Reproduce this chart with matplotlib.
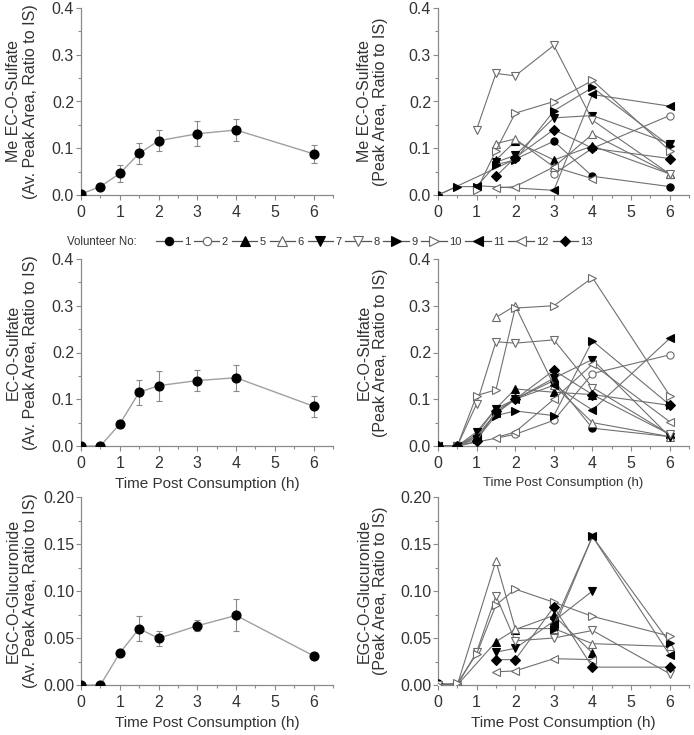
import numpy as np
import matplotlib

matplotlib.use("Agg")
import matplotlib.pyplot as plt
from matplotlib.lines import Line2D
from matplotlib.ticker import FormatStrFormatter, MultipleLocator

nan = np.nan

# sampling times (h) and volunteer ids
times = [0, 0.5, 1, 1.5, 2, 3, 4, 6]
volunteers = ["1", "2", "5", "6", "7", "8", "9", "10", "11", "12", "13"]

# averages +/- error (left column)
me_sulf_mean = [0.002, 0.018, 0.046, 0.089, 0.116, 0.131, 0.139, 0.088]
me_sulf_err = [0.0, 0.003, 0.019, 0.023, 0.022, 0.027, 0.023, 0.019]
ec_sulf_mean = [0.0, 0.0, 0.047, 0.115, 0.129, 0.140, 0.146, 0.085]
ec_sulf_err = [0.0, 0.0, 0.009, 0.027, 0.032, 0.023, 0.028, 0.022]
egc_gluc_mean = [0.0, 0.0, 0.034, 0.060, 0.0496, 0.063, 0.074, 0.031]
egc_gluc_err = [0.0, 0.0, 0.002, 0.013, 0.008, 0.006, 0.017, 0.003]

# individual volunteers (right column), one row per volunteer, nan = not detected
me_sulf_vol = [
    [0.0, nan, nan, nan, nan, 0.115, 0.040, 0.018],      # 1
    [nan, nan, nan, nan, nan, 0.045, 0.100, 0.170],      # 2
    [nan, nan, nan, 0.075, 0.115, 0.075, 0.105, 0.045],  # 5
    [nan, nan, nan, 0.110, 0.120, 0.060, 0.130, 0.045],  # 6
    [nan, nan, nan, 0.070, 0.085, 0.165, 0.170, 0.110],  # 7
    [nan, nan, 0.140, 0.260, 0.255, 0.320, 0.160, 0.045],  # 8
    [0.0, 0.018, 0.018, 0.065, 0.075, 0.180, 0.230, 0.105],  # 9
    [nan, nan, 0.010, 0.095, 0.175, 0.200, 0.245, 0.095],  # 10
    [nan, nan, 0.020, nan, nan, 0.010, 0.215, 0.190],    # 11
    [nan, nan, nan, 0.015, 0.018, 0.060, 0.035, nan],    # 12
    [nan, nan, nan, 0.040, 0.080, 0.140, 0.100, 0.078],  # 13
]
ec_sulf_vol = [
    [0.0, 0.0, 0.020, 0.070, 0.100, 0.140, 0.038, 0.020],  # 1
    [0.0, 0.0, nan, nan, 0.025, 0.055, 0.155, 0.195],      # 2
    [0.0, 0.0, 0.025, 0.080, 0.122, 0.115, 0.110, 0.025],  # 5
    [nan, nan, nan, 0.275, 0.300, 0.130, 0.050, 0.020],    # 6
    [0.0, 0.0, 0.030, 0.080, 0.100, 0.145, 0.185, 0.020],  # 7
    [0.0, 0.0, 0.090, 0.223, 0.220, 0.227, 0.125, 0.025],  # 8
    [0.0, 0.0, 0.015, 0.065, 0.075, 0.065, 0.225, 0.088],  # 9
    [0.0, 0.0, 0.108, 0.120, 0.295, 0.300, 0.360, 0.108],  # 10
    [0.0, 0.0, 0.020, 0.070, 0.100, 0.130, 0.077, 0.230],  # 11
    [nan, nan, nan, 0.018, 0.030, 0.100, 0.175, 0.052],    # 12
    [0.0, 0.0, 0.010, 0.075, 0.100, 0.162, 0.110, 0.087],  # 13
]
egc_gluc_vol = [
    [0.002, 0.0, nan, nan, nan, nan, nan, nan],            # 1
    [0.0, 0.0, nan, nan, nan, nan, nan, nan],              # 2
    [0.0, 0.0, nan, 0.046, 0.059, 0.074, 0.034, nan],      # 5
    [0.0, 0.0, nan, 0.132, 0.060, 0.060, 0.044, 0.041],    # 6
    [nan, nan, nan, 0.035, 0.039, 0.068, 0.100, nan],      # 7
    [0.0, 0.0, 0.035, 0.095, 0.047, 0.050, 0.058, 0.012],  # 8
    [nan, nan, nan, nan, nan, 0.060, 0.158, 0.045],        # 9
    [0.0, 0.002, 0.033, 0.085, 0.102, 0.088, 0.073, 0.052],  # 10
    [nan, nan, nan, nan, nan, 0.065, 0.158, 0.032],        # 11
    [nan, nan, nan, 0.014, 0.015, 0.028, 0.027, nan],      # 12
    [nan, nan, nan, 0.027, 0.027, 0.083, 0.019, 0.019],    # 13
]

# marker shape / filled / size per volunteer
STYLES = [("o", True, 5.2), ("o", False, 5.2), ("^", True, 6.0), ("^", False, 6.0),
          ("v", True, 6.0), ("v", False, 6.0), (">", True, 6.0), (">", False, 6.0),
          ("<", True, 6.0), ("<", False, 6.0), ("D", True, 4.6)]

W, H = 694, 735
TXT = "#333333"
AX = "#8a8a8a"

plt.rcParams["font.family"] = ["Liberation Sans", "DejaVu Sans"]
plt.rcParams["text.color"] = TXT


def box(x0, top, width, bottom):
    return [x0 / W, 1 - bottom / H, width / W, (bottom - top) / H]


def style_axes(ax, ymax, ymajor, fmt):
    ax.set_xlim(0, 6.5)
    ax.set_ylim(0, ymax)
    for side in ("top", "right"):
        ax.spines[side].set_visible(False)
    for side in ("left", "bottom"):
        ax.spines[side].set_color(AX)
        ax.spines[side].set_linewidth(0.9)
    ax.xaxis.set_major_locator(MultipleLocator(1))
    ax.xaxis.set_minor_locator(MultipleLocator(0.5))
    ax.yaxis.set_major_locator(MultipleLocator(ymajor))
    ax.yaxis.set_minor_locator(MultipleLocator(ymajor / 2))
    ax.yaxis.set_major_formatter(FormatStrFormatter(fmt))
    ax.tick_params(which="both", direction="out", color=AX, width=0.8,
                   labelsize=11.5, labelcolor=TXT)
    ax.tick_params(which="major", length=3.5)
    ax.tick_params(which="minor", length=2.5)
    ax.tick_params(axis="y", pad=1.5)
    ax.tick_params(axis="x", pad=3.5)


def plot_mean(ax, mean, err):
    ax.errorbar(times, mean, yerr=err, fmt="-o", color="#a0a0a0", lw=1.0,
                mfc="black", mec="black", ms=6.3, ecolor="#8a8a8a",
                elinewidth=0.8, capsize=2.5, capthick=0.8, zorder=3)


def plot_vol(ax, rows):
    t = np.array(times)
    for row, (m, filled, ms) in zip(rows, STYLES):
        y = np.array(row, dtype=float)
        ok = ~np.isnan(y)
        ax.plot(t[ok], y[ok], color="#707070", lw=0.8, marker=m, ms=ms,
                mfc="black" if filled else "white",
                mec="black" if filled else "#6a6a6a", mew=0.8, zorder=3)


fig = plt.figure(figsize=(W / 100, H / 100), dpi=100)

rows = [
    (8, 195, 0.4, 0.1, "%.1f", "Me EC-O-Sulfate", me_sulf_mean, me_sulf_err, me_sulf_vol),
    (259, 446, 0.4, 0.1, "%.1f", "EC-O-Sulfate", ec_sulf_mean, ec_sulf_err, ec_sulf_vol),
    (497, 685, 0.20, 0.05, "%.2f", "EGC-O-Glucuronide", egc_gluc_mean, egc_gluc_err, egc_gluc_vol),
]

for i, (top, bottom, ymax, ymaj, fmt, name, mean, err, vol) in enumerate(rows):
    axl = fig.add_axes(box(81, top, 252, bottom))
    axr = fig.add_axes(box(438, top, 251, bottom))
    style_axes(axl, ymax, ymaj, fmt)
    style_axes(axr, ymax, ymaj, fmt)
    plot_mean(axl, mean, err)
    plot_vol(axr, vol)

    axl.set_ylabel(f"{name}\n(Av. Peak Area, Ratio to IS)", fontsize=11.5,
                   color=TXT, linespacing=1.15)
    axr.set_ylabel(f"{name}\n(Peak Area, Ratio to IS)", fontsize=11.5,
                   color=TXT, linespacing=1.15)
    axl.yaxis.set_label_coords(-0.172, 0.5)
    axr.yaxis.set_label_coords(-0.198, 0.5)

    if i > 0:
        xl_size = (11, 9.5) if i == 1 else (11, 11)
        for ax, fs in zip((axl, axr), xl_size):
            ax.set_xlabel("Time Post Consumption (h)", fontsize=fs, color=TXT)
            ax.xaxis.set_label_coords(0.5, -0.165)

# shared legend row between first and second row
handles = []
for m, filled, ms in STYLES:
    handles.append(Line2D([], [], color="#555555", lw=0.9, marker=m, ms=ms * 1.15,
                          mfc="black" if filled else "white",
                          mec="black" if filled else "#666666", mew=0.8))
fig.text(67 / W, 1 - 242 / H, "Volunteer No:", fontsize=8.3, color=TXT,
         ha="left", va="center")
fig.legend(handles, volunteers, ncol=11, loc="center left",
           bbox_to_anchor=(156 / W, 1 - 242 / H), frameon=False, fontsize=8,
           handlelength=2.3, handletextpad=0.2, columnspacing=0.35,
           borderpad=0, borderaxespad=0, labelcolor=TXT)

fig.savefig("out.png", dpi=100)
